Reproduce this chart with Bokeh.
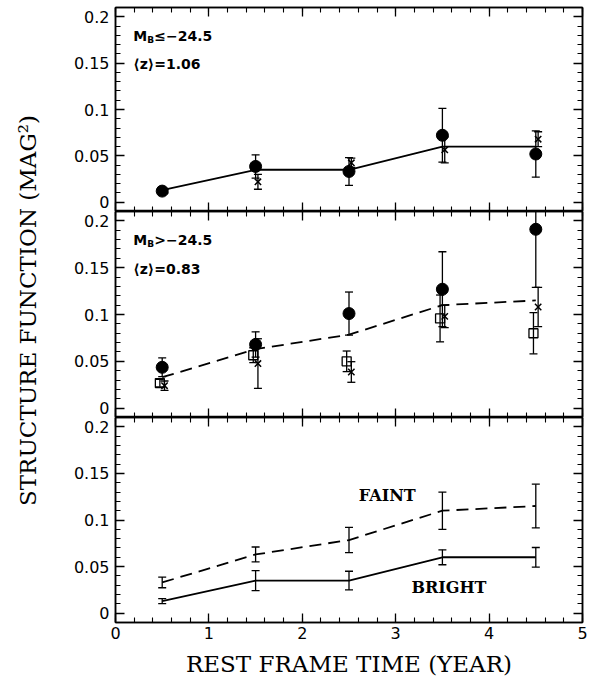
import math
from bokeh.plotting import figure
from bokeh.models import (Range1d, LinearAxis, FixedTicker, Label,
                          ColumnDataSource, CustomJSTickFormatter)
from bokeh.layouts import row, column
from bokeh.embed import file_html
from bokeh.resources import INLINE

# ---------------- data ----------------
T = [0.5, 1.5, 2.5, 3.5, 4.5]

bright_mean = [0.013, 0.035, 0.035, 0.060, 0.060]
bright_mean_err = [0.0027, 0.0107, 0.010, 0.008, 0.0105]
faint_mean = [0.033, 0.063, 0.0785, 0.110, 0.115]
faint_mean_err = [0.0057, 0.008, 0.0135, 0.020, 0.0235]

bright_circ = [0.012, 0.0386, 0.0332, 0.0722, 0.052]
bright_circ_err = [0.003, 0.0125, 0.015, 0.029, 0.025]
bright_cross = [0.012, 0.022, 0.0425, 0.0565, 0.068]
bright_cross_err = [0.002, 0.008, 0.005, 0.014, 0.008]

faint_circ = [0.0436, 0.068, 0.101, 0.127, 0.191]
faint_circ_err = [0.010, 0.0135, 0.023, 0.040, 0.062]
faint_sq = [0.0268, 0.0565, 0.050, 0.0958, 0.080]
faint_sq_err = [0.004, 0.008, 0.011, 0.025, 0.022]
faint_cross = [0.024, 0.0476, 0.0386, 0.098, 0.108]
faint_cross_err = [0.005, 0.0265, 0.011, 0.012, 0.021]

x_ticks = [0, 1, 2, 3, 4, 5]
x_tick_labels = ["0", "1", "2", "3", "4", "5"]
y_ticks = [0, 0.05, 0.1, 0.15, 0.2]
y_tick_labels = ["0", "0.05", "0.1", "0.15", "0.2"]

X_TITLE = "REST FRAME TIME (YEAR)"
Y_TITLE = "STRUCTURE FUNCTION (MAG\u00b2)"

# ---------------- styling ----------------
SANS = "DejaVu Sans"
SERIF = "DejaVu Serif"
FRAME_W = 467
LEFT_W = 58
BORDER_L = 57
BORDER_R = 8
DODGE = 0.025

xr = Range1d(0, 5)
x_minor = [round(i * 0.2, 2) for i in range(26)]
y_minor = [round(-0.01 + i * 0.01, 2) for i in range(23)]


def style_axis(ax, ticks, minor, labels, show):
    ax.ticker = FixedTicker(ticks=ticks, minor_ticks=minor)
    ax.axis_line_width = 1.5
    ax.axis_line_color = "black"
    ax.major_tick_in = 9
    ax.major_tick_out = 0
    ax.minor_tick_in = 5
    ax.minor_tick_out = 0
    ax.major_tick_line_width = 1.3
    ax.minor_tick_line_width = 1.1
    ax.major_tick_line_color = "black"
    ax.minor_tick_line_color = "black"
    if show:
        ax.major_label_overrides = {t: s for t, s in zip(ticks, labels)}
        ax.major_label_text_font = SANS
        ax.major_label_text_font_size = "16px"
        ax.major_label_text_color = "black"
    else:
        ax.formatter = CustomJSTickFormatter(code="return ''")
        ax.major_label_text_font_size = "1px"
        ax.major_label_standoff = 0


def make_panel(frame_h, top_border, bottom_border, xlabels):
    p = figure(frame_width=FRAME_W, frame_height=frame_h, x_range=xr,
               y_range=Range1d(-0.01, 0.21), output_backend="svg",
               toolbar_location=None, min_border_left=BORDER_L,
               min_border_right=BORDER_R, min_border_top=top_border,
               min_border_bottom=bottom_border)
    p.grid.visible = False
    p.outline_line_color = "black"
    p.outline_line_width = 1.5
    p.background_fill_color = "white"
    p.border_fill_color = "white"
    style_axis(p.xaxis[0], x_ticks, x_minor, x_tick_labels, xlabels)
    style_axis(p.yaxis[0], y_ticks, y_minor, y_tick_labels, True)
    p.yaxis[0].major_label_standoff = 6
    if xlabels:
        p.xaxis[0].major_label_standoff = 4
        p.xaxis[0].axis_label = X_TITLE
        p.xaxis[0].axis_label_text_font = SERIF
        p.xaxis[0].axis_label_text_font_size = "23px"
        p.xaxis[0].axis_label_text_font_style = "normal"
        p.xaxis[0].axis_label_text_color = "black"
        p.xaxis[0].axis_label_standoff = 9
    top_ax = LinearAxis()
    right_ax = LinearAxis()
    style_axis(top_ax, x_ticks, x_minor, x_tick_labels, False)
    style_axis(right_ax, y_ticks, y_minor, y_tick_labels, False)
    p.add_layout(top_ax, "above")
    p.add_layout(right_ax, "right")
    return p


def errbars(p, xs, ys, es, cap=8, lw=1.3):
    src = ColumnDataSource(dict(x=xs, lo=[y - e for y, e in zip(ys, es)],
                                hi=[y + e for y, e in zip(ys, es)]))
    p.segment(x0="x", y0="lo", x1="x", y1="hi", source=src,
              line_color="black", line_width=lw)
    p.scatter(x="x", y="lo", marker="dash", size=cap, source=src,
              line_color="black", line_width=lw)
    p.scatter(x="x", y="hi", marker="dash", size=cap, source=src,
              line_color="black", line_width=lw)


def panel_text(p, y, lines):
    for txt, xoff, yoff, size in lines:
        p.add_layout(Label(x=0.19, y=y, x_offset=xoff, y_offset=yoff, text=txt,
                           text_font=SANS, text_font_size=size,
                           text_font_style="bold", text_baseline="middle",
                           text_align="left", text_color="black"))


T_left = [t - DODGE for t in T]
T_right = [t + DODGE for t in T]

# ---------- top panel: bright ----------
p1 = make_panel(204, 7, 0, False)
p1.line(T, bright_mean, line_color="black", line_width=1.8)
errbars(p1, T, bright_circ, bright_circ_err)
errbars(p1, T_right, bright_cross, bright_cross_err)
p1.scatter(T, bright_circ, marker="circle", size=12, fill_color="black",
           line_color="black")
p1.scatter(T_right, bright_cross, marker="x", size=9, line_color="black",
           line_width=1.5)
panel_text(p1, 0.179, [("M", 0, 0, "14px"), ("B", 14, -4, "9px"),
                       ("\u2264\u221224.5", 21, 0, "14px")])
panel_text(p1, 0.1486, [("\u27e8z\u27e9=1.06", 0, 0, "14px")])

# ---------- middle panel: faint ----------
p2 = make_panel(206, 0, 0, False)
p2.line(T, faint_mean, line_color="black", line_width=1.8, line_dash="12 7")
errbars(p2, T, faint_circ, faint_circ_err)
errbars(p2, T_left, faint_sq, faint_sq_err)
errbars(p2, T_right, faint_cross, faint_cross_err)
p2.scatter(T, faint_circ, marker="circle", size=12, fill_color="black",
           line_color="black")
p2.scatter(T_left, faint_sq, marker="square", size=9, fill_color=None,
           line_color="black", line_width=1.3)
p2.scatter(T_right, faint_cross, marker="x", size=9, line_color="black",
           line_width=1.5)
panel_text(p2, 0.1797, [("M", 0, 0, "14px"), ("B", 14, -4, "9px"),
                        (">\u221224.5", 21, 0, "14px")])
panel_text(p2, 0.1487, [("\u27e8z\u27e9=0.83", 0, 0, "14px")])

# ---------- bottom panel: means ----------
p3 = make_panel(205, 0, 61, True)
p3.line(T, faint_mean, line_color="black", line_width=1.8, line_dash="12 7")
p3.line(T, bright_mean, line_color="black", line_width=1.8)
errbars(p3, T, faint_mean, faint_mean_err)
errbars(p3, T, bright_mean, bright_mean_err)
p3.add_layout(Label(x=2.91, y=0.126, text="FAINT", text_font=SERIF,
                    text_font_size="16px", text_font_style="bold",
                    text_color="black",
                    text_align="center", text_baseline="middle"))
p3.add_layout(Label(x=3.57, y=0.028, text="BRIGHT", text_font=SERIF,
                    text_font_size="16px", text_font_style="bold",
                    text_color="black",
                    text_align="center", text_baseline="middle"))

# ---------- y title strip ----------
TOTAL_H = 7 + 204 + 206 + 205 + 61
pt = figure(width=LEFT_W, height=TOTAL_H, x_range=Range1d(0, LEFT_W),
            y_range=Range1d(0, TOTAL_H), x_axis_type=None, y_axis_type=None,
            output_backend="svg", toolbar_location=None, min_border=0,
            outline_line_color=None)
pt.grid.visible = False
pt.add_layout(Label(x=27, y=TOTAL_H - 310, text=Y_TITLE, angle=math.pi / 2,
                    text_font=SERIF, text_font_size="23px", text_color="black",
                    text_align="center", text_baseline="middle"))

layout = row(pt, column(p1, p2, p3, spacing=0), spacing=0)

open("out.html", "w").write(file_html(layout, INLINE))
